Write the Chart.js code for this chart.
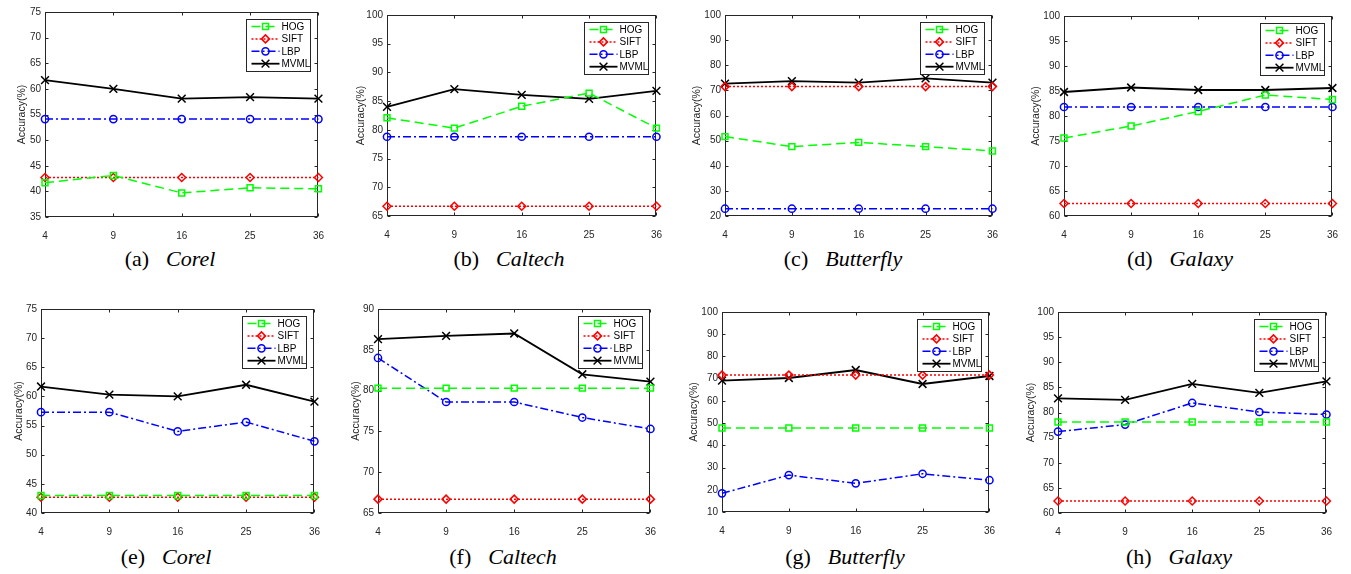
<!DOCTYPE html>
<html>
<head>
<meta charset="utf-8">
<script src="https://cdn.jsdelivr.net/npm/chart.js@4.4.1/dist/chart.umd.min.js"></script>
<style>
  body { margin: 0; background: #fff; width: 1351px; height: 574px; position: relative; overflow: hidden; }
  canvas { position: absolute; }
  .cap { position: absolute; font-family: "Liberation Serif", "Times New Roman", serif; font-size: 22px; line-height: 1;
         color: #000; white-space: nowrap; transform: translate(-50%, -50%); }
  .cap i { margin-left: 17px; }
</style>
</head>
<body>
<script>
// x axis: number of blocks
const xLabels = ['4', '9', '16', '25', '36'];
const methodNames = ['HOG', 'SIFT', 'LBP', 'MVML'];
const captionLetters = ['a', 'b', 'c', 'd', 'e', 'f', 'g', 'h'];
const captionNames = ['Corel', 'Caltech', 'Butterfly', 'Galaxy', 'Corel', 'Caltech', 'Butterfly', 'Galaxy'];

// y axis limits per panel
const yMin  = [35, 65, 20, 60, 40, 65, 10, 60];
const yMax  = [75, 100, 100, 100, 75, 90, 100, 100];
const yStep = [5, 5, 10, 5, 5, 5, 10, 5];

// (a) Corel
const hogA  = [41.7, 43.1, 39.7, 40.7, 40.5];
const siftA = [42.7, 42.7, 42.7, 42.7, 42.7];
const lbpA  = [54.1, 54.1, 54.1, 54.1, 54.1];
const mvmlA = [61.7, 60.0, 58.1, 58.4, 58.1];
// (b) Caltech
const hogB  = [82.1, 80.3, 84.1, 86.4, 80.3];
const siftB = [66.7, 66.7, 66.7, 66.7, 66.7];
const lbpB  = [78.8, 78.8, 78.8, 78.8, 78.8];
const mvmlB = [84.0, 87.1, 86.1, 85.4, 86.8];
// (c) Butterfly
const hogC  = [51.6, 47.6, 49.3, 47.6, 45.9];
const siftC = [71.5, 71.5, 71.5, 71.5, 71.5];
const lbpC  = [22.9, 22.9, 22.9, 22.9, 22.9];
const mvmlC = [72.7, 73.7, 73.1, 74.8, 73.1];
// (d) Galaxy
const hogD  = [75.6, 78.0, 80.9, 84.2, 83.3];
const siftD = [62.5, 62.5, 62.5, 62.5, 62.5];
const lbpD  = [81.8, 81.8, 81.8, 81.8, 81.8];
const mvmlD = [84.8, 85.7, 85.2, 85.2, 85.6];
// (e) Corel
const hogE  = [43.0, 43.0, 43.0, 43.0, 43.0];
const siftE = [42.7, 42.7, 42.7, 42.7, 42.7];
const lbpE  = [57.3, 57.3, 54.0, 55.6, 52.3];
const mvmlE = [61.7, 60.3, 60.0, 62.0, 59.1];
// (f) Caltech
const hogF  = [80.3, 80.3, 80.3, 80.3, 80.3];
const siftF = [66.7, 66.7, 66.7, 66.7, 66.7];
const lbpF  = [84.0, 78.6, 78.6, 76.7, 75.3];
const mvmlF = [86.3, 86.7, 87.0, 82.0, 81.1];
// (g) Butterfly
const hogG  = [47.8, 47.8, 47.8, 47.8, 47.8];
const siftG = [71.6, 71.6, 71.6, 71.6, 71.6];
const lbpG  = [18.4, 26.6, 22.9, 27.2, 24.3];
const mvmlG = [69.1, 70.3, 73.9, 67.6, 71.2];
// (h) Galaxy
const hogH  = [78.1, 78.1, 78.1, 78.1, 78.1];
const siftH = [62.4, 62.4, 62.4, 62.4, 62.4];
const lbpH  = [76.2, 77.6, 81.9, 80.1, 79.6];
const mvmlH = [82.8, 82.5, 85.7, 83.9, 86.2];

const panelSeries = [
  [hogA, siftA, lbpA, mvmlA], [hogB, siftB, lbpB, mvmlB],
  [hogC, siftC, lbpC, mvmlC], [hogD, siftD, lbpD, mvmlD],
  [hogE, siftE, lbpE, mvmlE], [hogF, siftF, lbpF, mvmlF],
  [hogG, siftG, lbpG, mvmlG], [hogH, siftH, lbpH, mvmlH]
];

// plot box of each panel on the page: left, top, right, bottom, y-title gap, caption centre
const layout = [
  { l: 45,   t: 12,  r: 319,  b: 217, tg: 23, cx: 170,  cy: 259 },
  { l: 387,  t: 15,  r: 657,  b: 216, tg: 26, cx: 509,  cy: 259 },
  { l: 725,  t: 15,  r: 993,  b: 216, tg: 28, cx: 843,  cy: 259 },
  { l: 1064, t: 16,  r: 1333, b: 216, tg: 28, cx: 1180, cy: 259 },
  { l: 41,   t: 309, r: 315,  b: 513, tg: 22, cx: 166,  cy: 557 },
  { l: 378,  t: 309, r: 651,  b: 513, tg: 22, cx: 503,  cy: 557 },
  { l: 722,  t: 312, r: 990,  b: 512, tg: 28, cx: 845,  cy: 557 },
  { l: 1058, t: 312, r: 1327, b: 513, tg: 27, cx: 1179, cy: 557 }
];

const styles = [
  { color: '#00ff00', dash: [9, 5], point: 'rect', radius: 4.2 },
  { color: '#ff0000', dash: [2, 2], point: 'rectRot', radius: 4 },
  { color: '#0000ff', dash: [8, 3, 2, 3], point: 'circle', radius: 3.6 },
  { color: '#000000', dash: [], point: 'crossRot', radius: 5.5 }
];

const AXIS = '#262626';
const LEFT_W = 45, TOP_P = 10, RIGHT_P = 10, BOTTOM_H = 22;

const matlabBox = {
  id: 'matlabBox',
  beforeDatasetsDraw(chart) {
    const { ctx, chartArea: a, scales: { x, y } } = chart;
    const L = Math.round(a.left) + 0.5, R = Math.round(a.right) - 0.5;
    const T = Math.round(a.top) + 0.5, B = Math.round(a.bottom) - 0.5;
    ctx.save();
    ctx.strokeStyle = AXIS;
    ctx.lineWidth = 1;
    ctx.strokeRect(L, T, R - L, B - T);
    ctx.beginPath();
    y.ticks.forEach(t => {
      const py = Math.round(y.getPixelForValue(t.value)) + 0.5;
      ctx.moveTo(L, py); ctx.lineTo(L + 3, py);
      ctx.moveTo(R, py); ctx.lineTo(R - 3, py);
    });
    xLabels.forEach((_, i) => {
      const px = Math.round(x.getPixelForValue(i)) + 0.5;
      ctx.moveTo(px, B); ctx.lineTo(px, B - 3);
      ctx.moveTo(px, T); ctx.lineTo(px, T + 3);
    });
    ctx.stroke();
    ctx.restore();
  },
  afterDatasetsDraw(chart) {
    const { ctx, chartArea: a } = chart;
    const w = 64, h = 52;
    const lx = Math.round(a.right - 8 - w) + 0.5, ly = Math.round(a.top + 7) + 0.5;
    ctx.save();
    ctx.fillStyle = '#fff';
    ctx.fillRect(lx, ly, w, h);
    ctx.strokeStyle = AXIS;
    ctx.lineWidth = 1;
    ctx.strokeRect(lx, ly, w, h);
    chart.data.datasets.forEach((ds, i) => {
      const cy = ly + 7 + i * 12.4;
      ctx.strokeStyle = ds.borderColor;
      ctx.lineWidth = ds.borderWidth;
      ctx.setLineDash(ds.borderDash);
      ctx.beginPath();
      ctx.moveTo(lx + 5, cy); ctx.lineTo(lx + 33, cy);
      ctx.stroke();
      ctx.setLineDash([]);
      ctx.lineWidth = ds.pointBorderWidth;
      ctx.fillStyle = 'rgba(0,0,0,0)';
      Chart.helpers.drawPoint(ctx, { pointStyle: ds.pointStyle, radius: ds.pointRadius, borderWidth: ds.pointBorderWidth, rotation: 0 }, lx + 19, cy);
      ctx.fillStyle = '#000';
      ctx.font = '10px "Liberation Sans", Arial, sans-serif';
      ctx.textBaseline = 'middle';
      ctx.fillText(ds.label, lx + 35, cy + 0.5);
    });
    ctx.restore();
  }
};

layout.forEach((p, k) => {
  const cv = document.createElement('canvas');
  const W = p.r - p.l + LEFT_W + RIGHT_P;
  const H = p.b - p.t + TOP_P + BOTTOM_H;
  cv.width = W; cv.height = H;
  cv.style.left = (p.l - LEFT_W) + 'px';
  cv.style.top = (p.t - TOP_P) + 'px';
  cv.style.width = W + 'px'; cv.style.height = H + 'px';
  document.body.appendChild(cv);

  const datasets = panelSeries[k].map((vals, i) => ({
    label: methodNames[i],
    data: vals,
    borderColor: styles[i].color,
    borderWidth: i === 3 ? 1.8 : 1.5,
    borderDash: styles[i].dash,
    pointStyle: styles[i].point,
    pointRadius: styles[i].radius,
    pointBorderWidth: 1.5,
    pointBorderColor: styles[i].color,
    pointBackgroundColor: 'rgba(0,0,0,0)',
    fill: false,
    tension: 0,
    clip: false
  }));

  new Chart(cv, {
    type: 'line',
    data: { labels: xLabels, datasets: datasets },
    options: {
      responsive: false,
      animation: false,
      devicePixelRatio: 1,
      layout: { autoPadding: false, padding: { top: TOP_P, right: RIGHT_P, left: 0, bottom: 0 } },
      plugins: { legend: { display: false }, tooltip: { enabled: false } },
      scales: {
        x: {
          type: 'category',
          offset: false,
          grid: { display: false },
          border: { display: false },
          ticks: { color: AXIS, font: { family: '"Liberation Sans", Arial, sans-serif', size: 10 }, padding: 5, maxRotation: 0, autoSkip: false },
          afterFit: s => { s.height = BOTTOM_H; }
        },
        y: {
          min: yMin[k], max: yMax[k],
          grid: { display: false, drawTicks: false },
          border: { display: false },
          ticks: { stepSize: yStep[k], color: AXIS, padding: 4, font: { family: '"Liberation Sans", Arial, sans-serif', size: 10 } },
          title: {
            display: true, text: 'Accuracy(%)', color: AXIS,
            font: { family: '"Liberation Sans", Arial, sans-serif', size: 10.5 },
            padding: { top: LEFT_W - p.tg - 6.3, bottom: 0 }
          },
          afterFit: s => { s.width = LEFT_W; }
        }
      }
    },
    plugins: [matlabBox]
  });

  const cap = document.createElement('div');
  cap.className = 'cap';
  cap.style.left = p.cx + 'px';
  cap.style.top = p.cy + 'px';
  cap.innerHTML = '(' + captionLetters[k] + ')<i>' + captionNames[k] + '</i>';
  document.body.appendChild(cap);
});
</script>
</body>
</html>
